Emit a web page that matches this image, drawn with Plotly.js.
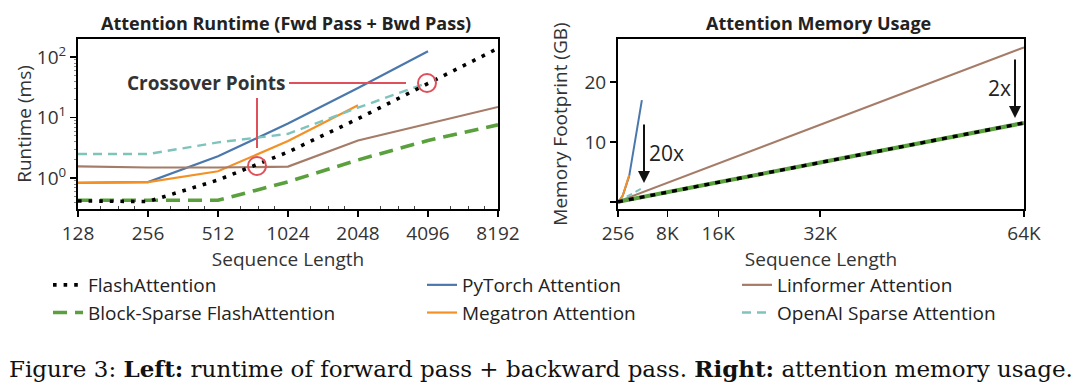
<!DOCTYPE html>
<html>
<head>
<meta charset="utf-8">
<script src="https://cdn.plot.ly/plotly-3.0.1.min.js"></script>
<style>html,body{margin:0;padding:0;background:#fff;}#chart{width:1080px;height:388px;}</style>
</head>
<body>
<div id="chart"></div>
<script>
// ---------- Left: runtime (ms) ----------
const seqRuntime = [128, 256, 512, 1024, 2048, 4096, 8192];
const flashRuntime = [0.42, 0.41, 0.93, 2.7, 9.6, 36, 140];
const blockSparseRuntime = [0.43, 0.43, 0.43, 0.87, 2.0, 4.2, 7.6];
const pytorchRuntime = [0.84, 0.86, 2.3, 8.0, 31, 125];
const megatronRuntime = [0.84, 0.86, 1.3, 4.1, 16];
const linformerRuntime = [1.57, 1.5, 1.5, 1.55, 4.2, 8.0, 15];
const openaiRuntime = [2.5, 2.5, 3.9, 5.4, 14.6, 38];

// ---------- Right: memory (GB) ----------
const seqMemory = [256, 512, 1024, 2048, 4096, 8192, 16384, 32768, 65536];
const flashMemory = [0.05, 0.1, 0.2, 0.4, 0.8, 1.65, 3.3, 6.6, 13.2];
const blockSparseMemory = [0.05, 0.1, 0.2, 0.4, 0.8, 1.65, 3.3, 6.6, 13.2];
const pytorchMemory = [0.1, 0.3, 1.1, 4.3, 17];
const megatronMemory = [0.1, 0.3, 1.1, 4.5];
const linformerMemory = [0.1, 0.2, 0.4, 0.8, 1.6, 3.2, 6.45, 12.9, 25.8];
const openaiMemory = [0.1, 0.25, 0.55, 1.1, 2.3];

const xTickVals = [128, 256, 512, 1024, 2048, 4096, 8192];
const xTickText = ['128', '256', '512', '1024', '2048', '4096', '8192'];
const yTickVals = [1, 10, 100];
const yTickText = ['10<sup>0</sup>', '10<sup>1</sup>', '10<sup>2</sup>'];
const memXTickVals = [256, 8192, 16384, 32768, 65536];
const memXTickText = ['256', '8K', '16K', '32K', '64K'];
const memYTickVals = [0, 10, 20];
const memYTickText = ['', '10', '20'];

const C = {
  flash: '#000000', block: '#5aa03c', pytorch: '#4a78ac',
  megatron: '#f39125', linformer: '#a57c68', openai: '#7fc3bd'
};
const FONT = 'Open Sans, Lato, sans-serif';

const traces = [
  // left panel
  {x: seqRuntime, y: pytorchRuntime, name: 'PyTorch Attention', legend: 'legend2', legendrank: 1, legendgroup: 'p',
   mode: 'lines', line: {color: C.pytorch, width: 2.2}, xaxis: 'x', yaxis: 'y'},
  {x: seqRuntime, y: megatronRuntime, name: 'Megatron Attention', legend: 'legend2', legendrank: 2, legendgroup: 'm',
   mode: 'lines', line: {color: C.megatron, width: 2.2}, xaxis: 'x', yaxis: 'y'},
  {x: seqRuntime, y: linformerRuntime, name: 'Linformer Attention', legend: 'legend3', legendrank: 1, legendgroup: 'l',
   mode: 'lines', line: {color: C.linformer, width: 2.2}, xaxis: 'x', yaxis: 'y'},
  {x: seqRuntime, y: openaiRuntime, name: 'OpenAI Sparse Attention', legend: 'legend3', legendrank: 2, legendgroup: 'o',
   mode: 'lines', line: {color: C.openai, width: 2.4, dash: '9px,6px'}, xaxis: 'x', yaxis: 'y'},
  {x: seqRuntime, y: blockSparseRuntime, name: 'Block-Sparse FlashAttention', legend: 'legend', legendrank: 2, legendgroup: 'b',
   mode: 'lines', line: {color: C.block, width: 3.6, dash: '14px,8px'}, xaxis: 'x', yaxis: 'y'},
  {x: seqRuntime, y: flashRuntime, name: 'FlashAttention', legend: 'legend', legendrank: 1, legendgroup: 'f',
   mode: 'lines', line: {color: C.flash, width: 3.6, dash: '3.6px,7px'}, xaxis: 'x', yaxis: 'y'},
  // right panel
  {x: seqMemory, y: linformerMemory, showlegend: false, mode: 'lines',
   line: {color: C.linformer, width: 2}, xaxis: 'x2', yaxis: 'y2'},
  {x: seqMemory, y: pytorchMemory, showlegend: false, mode: 'lines',
   line: {color: C.pytorch, width: 2}, xaxis: 'x2', yaxis: 'y2'},
  {x: seqMemory, y: megatronMemory, showlegend: false, mode: 'lines',
   line: {color: C.megatron, width: 2}, xaxis: 'x2', yaxis: 'y2'},
  {x: seqMemory, y: openaiMemory, showlegend: false, mode: 'lines',
   line: {color: C.openai, width: 2, dash: '6px,4px'}, xaxis: 'x2', yaxis: 'y2'},
  {x: seqMemory, y: blockSparseMemory, showlegend: false, mode: 'lines',
   line: {color: C.block, width: 4}, xaxis: 'x2', yaxis: 'y2'},
  {x: seqMemory, y: flashMemory, showlegend: false, mode: 'lines',
   line: {color: C.flash, width: 3.4, dash: '5px,6px'}, xaxis: 'x2', yaxis: 'y2'}
];

const W = 1080, H = 388;
const px = v => v / W, py = v => 1 - v / H;

const TICKFONT = {family: FONT, size: 19, color: '#333'};
const TITLEFONT = {family: FONT, size: 19, color: '#333'};
const axisCommon = {
  showline: true, mirror: true, linecolor: '#000', linewidth: 2,
  ticks: 'outside', tickcolor: '#000', tickwidth: 1.5, ticklen: 6,
  showgrid: false, zeroline: false,
  tickfont: TICKFONT
};
const legendCommon = {xanchor: 'left', yanchor: 'top', orientation: 'v', tracegroupgap: 5,
  font: {family: FONT, size: 19, color: '#222'}, bgcolor: 'rgba(0,0,0,0)', traceorder: 'normal'};

const layout = {
  width: W, height: H,
  margin: {l: 0, r: 0, t: 0, b: 0},
  paper_bgcolor: '#fff', plot_bgcolor: '#fff',
  font: {family: FONT, color: '#333'},
  xaxis: Object.assign({}, axisCommon, {
    type: 'log', domain: [px(78), px(498)],
    range: [Math.log10(128), Math.log10(8192)],
    tickvals: xTickVals, ticktext: xTickText,
    minor: {tickvals: [160, 192, 224, 320, 384, 448, 640, 768, 896, 1280, 1536, 1792, 2560, 3072, 3584, 5120, 6144, 7168],
            ticks: 'inside', ticklen: 3, tickcolor: '#444', tickwidth: 1},
    title: {text: 'Sequence Length', standoff: 1, font: TITLEFONT},
    anchor: 'y'
  }),
  yaxis: Object.assign({}, axisCommon, {
    type: 'log', domain: [py(209), py(39)],
    range: [-0.51, 2.3],
    tickvals: yTickVals, ticktext: yTickText,
    minor: {tickvals: [0.4,0.5,0.6,0.7,0.8,0.9,2,3,4,5,6,7,8,9,20,30,40,50,60,70,80,90,200],
            ticks: 'outside', ticklen: 2, tickcolor: '#888', tickwidth: 1},
    title: {text: 'Runtime (ms)', standoff: 0, font: TITLEFONT},
    anchor: 'x'
  }),
  xaxis2: Object.assign({}, axisCommon, {
    type: 'linear', domain: [px(618), px(1024)],
    range: [256, 65536],
    tickvals: memXTickVals, ticktext: memXTickText,
    title: {text: 'Sequence Length', standoff: 1, font: TITLEFONT},
    anchor: 'y2'
  }),
  yaxis2: Object.assign({}, axisCommon, {
    type: 'linear', domain: [py(209), py(39)],
    range: [-1.15, 27.2],
    tickvals: memYTickVals, ticktext: memYTickText,
    title: {text: 'Memory Footprint (GB)', standoff: 12, font: TITLEFONT},
    anchor: 'x2'
  }),
  legend: Object.assign({}, legendCommon, {x: px(48), y: py(266)}),
  legend2: Object.assign({}, legendCommon, {x: px(422), y: py(266)}),
  legend3: Object.assign({}, legendCommon, {x: px(737), y: py(266)}),
  annotations: [
    {text: '<b>Attention Runtime (Fwd Pass + Bwd Pass)</b>', xref: 'paper', yref: 'paper',
     x: px(286), y: py(23), xanchor: 'center', yanchor: 'middle', showarrow: false,
     font: {family: FONT, size: 18, color: '#222'}},
    {text: '<b>Attention Memory Usage</b>', xref: 'paper', yref: 'paper',
     x: px(818), y: py(23), xanchor: 'center', yanchor: 'middle', showarrow: false,
     font: {family: FONT, size: 18, color: '#222'}},
    {text: '<b>Crossover Points</b>', xref: 'paper', yref: 'paper',
     x: px(206), y: py(83), xanchor: 'center', yanchor: 'middle', showarrow: false,
     font: {family: FONT, size: 19, color: '#333'}},
    {text: '', xref: 'paper', yref: 'paper', x: px(644), y: py(183), ax: 0, ay: -60,
     showarrow: true, arrowhead: 2, arrowsize: 1.2, arrowwidth: 2, arrowcolor: '#111'},
    {text: '20x', xref: 'paper', yref: 'paper', x: px(666), y: py(153), xanchor: 'center', yanchor: 'middle',
     showarrow: false, font: {family: FONT, size: 21, color: '#222'}},
    {text: '', xref: 'paper', yref: 'paper', x: px(1015), y: py(118), ax: 0, ay: -60,
     showarrow: true, arrowhead: 2, arrowsize: 1.2, arrowwidth: 2, arrowcolor: '#111'},
    {text: '2x', xref: 'paper', yref: 'paper', x: px(999), y: py(88), xanchor: 'center', yanchor: 'middle',
     showarrow: false, font: {family: FONT, size: 21, color: '#222'}},
    {text: 'Figure 3: <b>Left:</b> runtime of forward pass + backward pass. <b>Right:</b> attention memory usage.',
     xref: 'paper', yref: 'paper', x: px(7), y: py(368), xanchor: 'left', yanchor: 'middle', showarrow: false,
     font: {family: 'DejaVu Serif, serif', size: 23, color: '#111'}}
  ],
  shapes: [
    {type: 'line', xref: 'paper', yref: 'paper', x0: px(289), x1: px(406), y0: py(83), y1: py(83),
     line: {color: '#e0505a', width: 2}},
    {type: 'line', xref: 'paper', yref: 'paper', x0: px(257), x1: px(257), y0: py(98), y1: py(148),
     line: {color: '#e0505a', width: 2}},
    {type: 'circle', xref: 'paper', yref: 'paper', x0: px(248), x1: px(266), y0: py(157), y1: py(175),
     line: {color: '#e0505a', width: 2}},
    {type: 'circle', xref: 'paper', yref: 'paper', x0: px(418), x1: px(436), y0: py(74), y1: py(92),
     line: {color: '#e0505a', width: 2}}
  ]
};

Plotly.newPlot('chart', traces, layout, {staticPlot: true, displayModeBar: false});
</script>
</body>
</html>
